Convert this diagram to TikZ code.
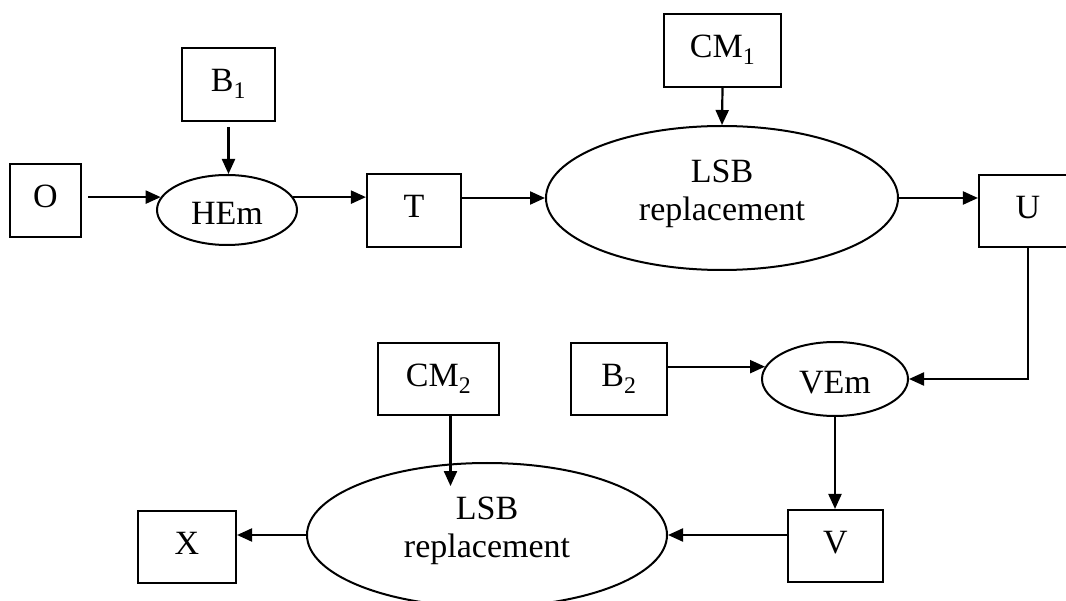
\documentclass[tikz,border=0pt]{standalone}
\usepackage{fontspec}
\setmainfont{Liberation Serif}
\usetikzlibrary{arrows.meta,calc,shapes.geometric}
\begin{document}
\begin{tikzpicture}[x=1pt,y=-1pt,
  font=\fontsize{34}{38}\selectfont,
  box/.style={draw, line width=2.1pt, inner sep=0pt, minimum height=73pt, text height=24pt, text depth=9.5pt},
  ell/.style={draw, ellipse, line width=2pt, inner sep=0pt},
  arr/.style={line width=2.2pt, -{Triangle[length=15pt,width=13pt]}}]
\useasboundingbox (0,0) rectangle (1066,601);
\clip (0,0) rectangle (1066,601);
\node[box, minimum width=71pt] (O) at (45.5,200.5) {O};
\node[box, minimum width=93pt] (B1) at (228.5,84.5) {B\textsubscript{1}};
\node[ell, minimum width=140pt, minimum height=70pt, text height=30pt, text depth=0pt] (HEm) at (227,210) {HEm};
\node[box, minimum width=94pt] (T) at (414,210.5) {T};
\node[box, minimum width=117pt] (CM1) at (722.5,50.5) {CM\textsubscript{1}};
\node[ell, minimum width=352pt, minimum height=144pt, align=center] (LSB1) at (722,198) {LSB\\replacement\rule[-16pt]{0pt}{16pt}};
\node[box, minimum width=98pt, minimum height=72pt] (U) at (1028,211) {U};
\node[box, minimum width=96pt, minimum height=72pt] (B2) at (619,379) {B\textsubscript{2}};
\node[ell, minimum width=146pt, minimum height=74pt, text height=30pt, text depth=0pt] (VEm) at (835,379) {VEm};
\node[box, minimum width=95pt, minimum height=72pt] (V) at (835.5,546) {V};
\node[ell, minimum width=360pt, minimum height=144pt, align=center] (LSB2) at (487,535) {LSB\\replacement\rule[-16pt]{0pt}{16pt}};
\node[box, minimum width=121pt, minimum height=72pt] (CM2) at (438.5,379) {CM\textsubscript{2}};
\node[box, minimum width=98pt, minimum height=72pt] (X) at (187,547) {X};
\draw[arr] ($(O.east |- HEm.169)+(6,0)$) -- (HEm.169);
\draw[arr] ($(B1.south)+(0,5)$) -- (B1.south |- HEm.north);
\draw[arr] (HEm.11) -- (T.west |- HEm.11);
\draw[arr] (T.east |- LSB1.west) -- (LSB1.west);
\draw[arr] (CM1.south) -- (LSB1.north);
\draw[arr] (LSB1.east) -- (U.west |- LSB1.east);
\draw[arr] (U.south) -- (U.south |- VEm.east) -- (VEm.east);
\draw[arr] (B2.east |- VEm.170) -- (VEm.170);
\draw[arr] (VEm.south) -- (VEm.south |- V.north);
\draw[arr] (V.west |- LSB2.east) -- (LSB2.east);
\draw[arr] (LSB2.west) -- (X.east |- LSB2.west);
\draw[arr] ($(CM2.south)+(12,0)$) -- ($(CM2.south)+(12,70)$);
\end{tikzpicture}
\end{document}
